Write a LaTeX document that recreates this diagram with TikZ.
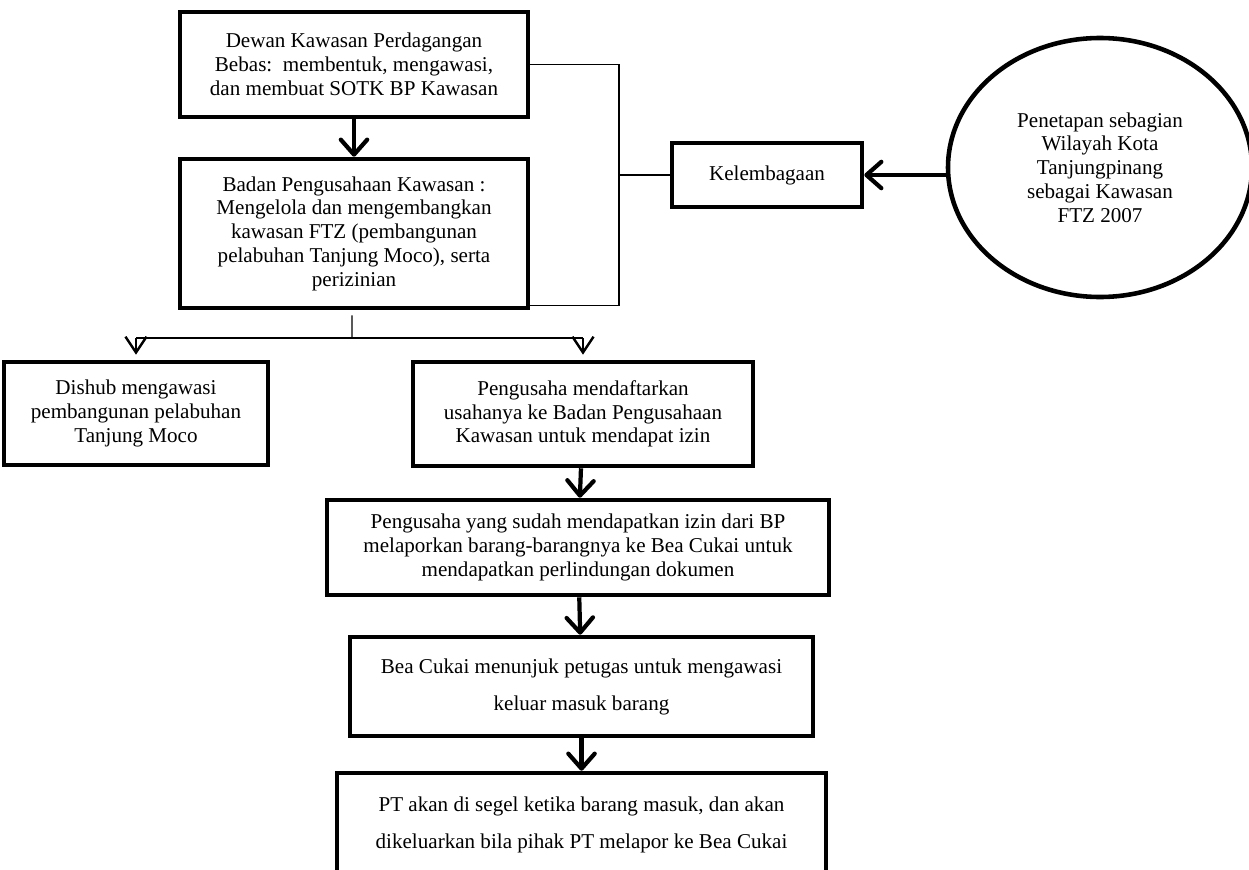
\documentclass[tikz,border=0pt]{standalone}
\usepackage{fontspec}
\setmainfont{Liberation Serif}
\usepackage{tikz}
\usetikzlibrary{arrows.meta, shapes.geometric, calc}

\tikzset{
    kotak/.style={draw, line width=2.6pt, inner sep=0pt, align=center, font=\fontsize{12}{13.5}\selectfont},
    tebal/.style={line width=2.4pt, -{Straight Barb[length=8.5pt, width=15pt, round]}},
    tipis/.style={line width=0.8pt},
    cabang/.style={line width=0.8pt, -{Straight Barb[length=9pt, width=12pt, line width=1.4pt]}}
}

\begin{document}
\begin{tikzpicture}
        \useasboundingbox (0,0) rectangle (24.98,-17.38);

        \node[kotak, minimum width=6.96cm, minimum height=2.10cm] (dewan) at (7.08,-1.29)
            {Dewan Kawasan Perdagangan\\Bebas:\ \ membentuk, mengawasi,\\dan membuat SOTK BP Kawasan};
        \node[kotak, minimum width=6.96cm, minimum height=2.98cm] (badan) at (7.08,-4.67)
            {Badan Pengusahaan Kawasan :\\Mengelola dan mengembangkan\\kawasan FTZ (pembangunan\\pelabuhan Tanjung Moco), serta\\perizinian};
        \node[kotak, minimum width=3.80cm, minimum height=1.28cm] (kelembagaan) at (15.34,-3.50) {Kelembagaan};
        \node[kotak, ellipse, minimum width=6.08cm, minimum height=5.18cm] (ftz) at (22.00,-3.35)
            {Penetapan sebagian\\Wilayah Kota\\Tanjungpinang\\sebagai Kawasan\\FTZ 2007};

        \node[kotak, minimum width=5.28cm, minimum height=2.06cm] (dishub) at (2.72,-8.27)
            {Dishub mengawasi\\pembangunan pelabuhan\\Tanjung Moco};
        \node[kotak, minimum width=6.80cm, minimum height=2.08cm] (daftar) at (11.66,-8.28)
            {Pengusaha mendaftarkan\\usahanya ke Badan Pengusahaan\\Kawasan untuk mendapat izin};
        \node[kotak, minimum width=10.04cm, minimum height=1.90cm] (izin) at (11.56,-10.95)
            {Pengusaha yang sudah mendapatkan izin dari BP\\melaporkan barang-barangnya ke Bea Cukai untuk\\mendapatkan perlindungan dokumen};
        \node[kotak, minimum width=9.26cm, minimum height=1.98cm] (petugas) at (11.63,-13.73)
            {Bea Cukai menunjuk petugas untuk mengawasi\\[7.5pt]keluar masuk barang};
        \node[kotak, minimum width=9.78cm, minimum height=2.06cm] (segel) at (11.63,-16.49)
            {PT akan di segel ketika barang masuk, dan akan\\[7.5pt]dikeluarkan bila pihak PT melapor ke Bea Cukai};

        \coordinate (brk) at (12.38,-3.50);
        \coordinate (split) at (7.04,-6.76);

        \draw[tebal] (dewan) -- (badan);
        \draw[tebal] (ftz.west |- kelembagaan.east) -- (kelembagaan.east);
        \draw[tipis] (dewan.east) -| (brk) |- ([yshift=1mm]badan.south east);
        \draw[tipis] (brk) -- (kelembagaan.west);

        \draw[tipis] ([xshift=-0.4mm, yshift=-1mm]badan.south) -- (split);
        \draw[tipis] (split -| dishub.north) -- (split -| daftar.north);
        \draw[cabang] (split -| dishub.north) -- ([yshift=1mm]dishub.north);
        \draw[cabang] (split -| daftar.north) -- ([yshift=1mm]daftar.north);

        \draw[tebal] (daftar) -- (izin);
        \draw[tebal] (izin) -- (petugas);
        \draw[tebal] (petugas) -- (segel);
    \end{tikzpicture}
\end{document}
